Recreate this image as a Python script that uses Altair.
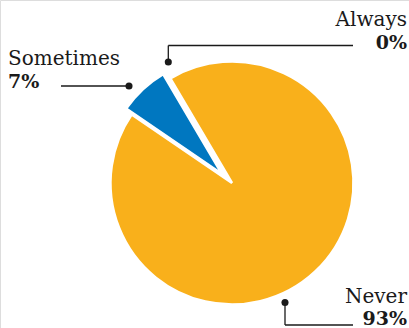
import math
import altair as alt
import pandas as pd

# ---- data ----
categories = ["Always", "Never", "Sometimes"]
values = [0, 93, 7]
colors = ["#1a1a1a", "#F9B01B", "#0077C0"]

# ---- layout (pixels) ----
W, H = 409, 328
START = math.radians(-30.5)
slice_layout = {
    "Never": dict(cx=232.0, cy=183.0, r=121.5),
    "Sometimes": dict(cx=222.0, cy=174.0, r=116.0),
}
# label anchor: (x, y of name baseline, align)
label_layout = {
    "Always": (407, 26, "right"),
    "Sometimes": (8, 65, "left"),
    "Never": (407, 302.5, "right"),
}
# leader polylines per category and their dot
leader_layout = {
    "Always": dict(pts=[(168.3, 62), (168.3, 45.5), (353, 45.5)]),
    "Sometimes": dict(pts=[(129, 86), (61, 86)]),
    "Never": dict(pts=[(285, 302.5), (285, 325), (353, 325)]),
}

df = pd.DataFrame({"category": categories, "value": values, "idx": range(len(categories))})

color = alt.Color("category:N", scale=alt.Scale(domain=categories, range=colors), legend=None)
theta_scale = alt.Scale(domain=[0, 100], range=[2 * math.pi + START, 4 * math.pi + START])

base = alt.Chart(df).transform_window(
    end="sum(value)", sort=[alt.SortField("idx")], frame=[None, 0]
).transform_calculate(start="datum.end - datum.value")

layers = []
for cat, lay in slice_layout.items():
    layers.append(
        base.transform_filter(alt.datum.category == cat)
        .mark_arc(radius=lay["r"], stroke="white", strokeWidth=2.5)
        .encode(
            theta=alt.Theta("start:Q", scale=theta_scale),
            theta2="end:Q",
            color=color,
            x=alt.value(lay["cx"]),
            y=alt.value(lay["cy"]),
        )
    )

# leader lines
segs = []
dots = []
for cat, lay in leader_layout.items():
    pts = lay["pts"]
    dots.append({"category": cat, "x": pts[0][0], "y": pts[0][1]})
    for (a, b) in zip(pts[:-1], pts[1:]):
        segs.append({"category": cat, "x": a[0], "y": a[1], "x2": b[0], "y2": b[1]})
seg_df = pd.DataFrame(segs)
dot_df = pd.DataFrame(dots)

rules = alt.Chart(seg_df).mark_rule(color="#1a1a1a", strokeWidth=1.3).encode(
    x=alt.X("x:Q", scale=None), y=alt.Y("y:Q", scale=None),
    x2="x2:Q", y2="y2:Q",
)
points = alt.Chart(dot_df).mark_circle(color="#1a1a1a", opacity=1, size=50).encode(
    x=alt.X("x:Q", scale=None), y=alt.Y("y:Q", scale=None)
)

# labels
lab_rows = []
for cat, v in zip(categories, values):
    x, y, align = label_layout[cat]
    lab_rows.append({"category": cat, "pct": f"{v}%", "x": x, "y": y, "align": align})
lab_df = pd.DataFrame(lab_rows)

text_layers = []
for align in ["left", "right"]:
    sub = alt.Chart(lab_df).transform_filter(alt.datum.align == align)
    text_layers.append(
        sub.mark_text(align=align, baseline="alphabetic", font="DejaVu Serif",
                      fontSize=20, color="#1a1a1a").encode(
            x=alt.X("x:Q", scale=None), y=alt.Y("y:Q", scale=None), text="category:N")
    )
    text_layers.append(
        sub.transform_calculate(y2="datum.y + 22.5").mark_text(
            align=align, baseline="alphabetic", font="DejaVu Serif",
            fontSize=19, fontWeight="bold", color="#1a1a1a").encode(
            x=alt.X("x:Q", scale=None), y=alt.Y("y2:Q", scale=None), text="pct:N")
    )

chart = alt.layer(*layers, rules, points, *text_layers).properties(
    width=W, height=H, padding=0, autosize=alt.AutoSizeParams(type="none")
).configure_view(stroke=None).configure(background="white")

chart.save("out.html", embed_options={"renderer": "svg", "actions": False})
